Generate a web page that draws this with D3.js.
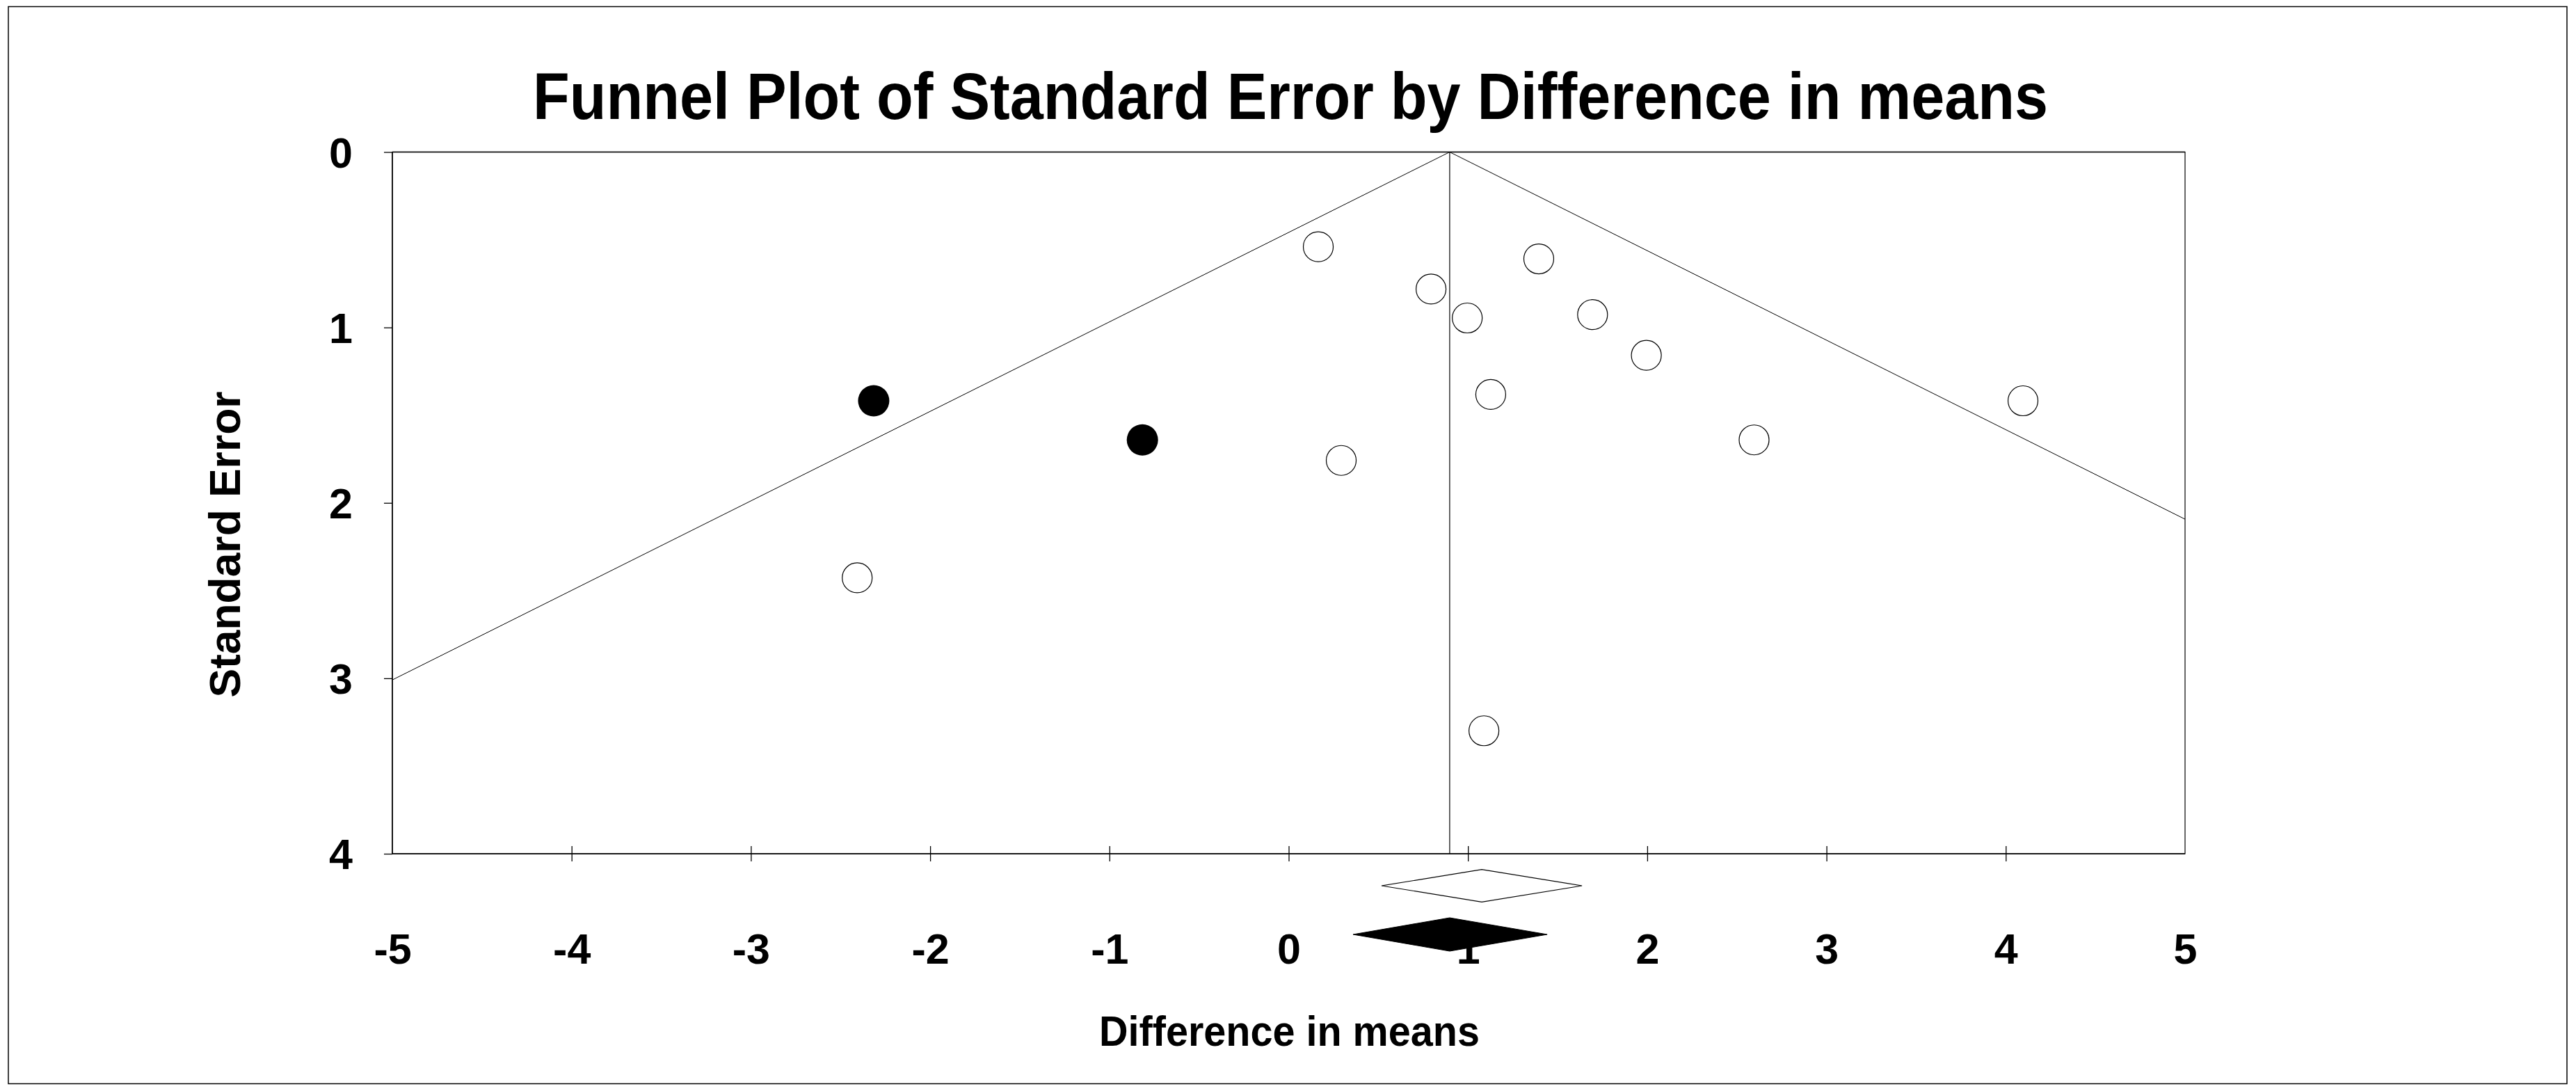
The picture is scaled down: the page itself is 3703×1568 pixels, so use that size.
<!DOCTYPE html>
<html>
<head>
<meta charset="utf-8">
<script src="https://cdn.jsdelivr.net/npm/d3@7"></script>
<style>
  html, body { margin: 0; padding: 0; background: #fff; }
  svg { display: block; }
  text { font-family: "Liberation Sans", Arial, sans-serif; font-weight: bold; fill: #000; }
</style>
</head>
<body>
<svg id="chart" width="3703" height="1568"></svg>
<script>
// ---------------- data ----------------
const chartTitle = "Funnel Plot of Standard Error by Difference in means";
const xAxisTitle = "Difference in means";
const yAxisTitle = "Standard Error";

const xTicks = [-5, -4, -3, -2, -1, 0, 1, 2, 3, 4, 5];
const xTickLabels = ["-5", "-4", "-3", "-2", "-1", "0", "1", "2", "3", "4", "5"];
const yTicks = [0, 1, 2, 3, 4];
const yTickLabels = ["0", "1", "2", "3", "4"];

// observed studies (open circles)
const observedDiff = [0.165, 0.794, 0.996, 1.395, 1.695, 1.995, 1.127, 4.096, 2.596, 0.293, -2.407, 1.089];
const observedSE   = [0.540, 0.781, 0.946, 0.609, 0.927, 1.159, 1.382, 1.418, 1.641, 1.758, 2.427, 3.299];

// imputed studies (filled circles)
const imputedDiff = [-2.315, -0.816];
const imputedSE   = [1.418, 1.641];

// combined effects (diamonds): [lower, point, upper]
const observedEffect = [0.518, 1.077, 1.636];
const adjustedEffect = [0.359, 0.898, 1.442];

// funnel limits (endpoints, difference vs SE)
const funnelLeft  = [[0.898, 0], [-5, 3.009]];
const funnelRight = [[0.898, 0], [5, 2.093]];
const centerLine  = [[0.898, 0], [0.898, 4]];

// ---------------- layout ----------------
const svg = d3.select("#chart");
const plot = { left: 564, right: 3141, top: 218.5, bottom: 1227 };

const x = d3.scaleLinear().domain([-5, 5]).range([plot.left, plot.right]);
const y = d3.scaleLinear().domain([0, 4]).range([plot.top, plot.bottom]);

// outer border
svg.append("rect")
  .attr("x", 12).attr("y", 9.5).attr("width", 3678).attr("height", 1548)
  .attr("fill", "none").attr("stroke", "#000").attr("stroke-width", 1.5);

// title
svg.append("text")
  .attr("x", 766).attr("y", 171)
  .attr("font-size", 95)
  .attr("textLength", 2178).attr("lengthAdjust", "spacingAndGlyphs")
  .text(chartTitle);

// plot frame
svg.append("rect")
  .attr("x", plot.left).attr("y", plot.top)
  .attr("width", plot.right - plot.left).attr("height", plot.bottom - plot.top)
  .attr("fill", "none").attr("stroke", "#000").attr("stroke-width", 1.2);
svg.append("line").attr("x1", plot.left).attr("x2", plot.left).attr("y1", plot.top).attr("y2", plot.bottom)
  .attr("stroke", "#000").attr("stroke-width", 1.6);
svg.append("line").attr("x1", plot.left).attr("x2", plot.right).attr("y1", plot.bottom).attr("y2", plot.bottom)
  .attr("stroke", "#000").attr("stroke-width", 1.6);
svg.append("line").attr("x1", plot.left).attr("x2", plot.right).attr("y1", plot.top).attr("y2", plot.top)
  .attr("stroke", "#000").attr("stroke-width", 1.6);

// y axis
const yAxis = svg.append("g")
  .attr("transform", `translate(${plot.left},0)`)
  .call(d3.axisLeft(y).tickValues(yTicks).tickFormat((d, i) => yTickLabels[i]).tickSize(12).tickPadding(45));
yAxis.select(".domain").remove();
yAxis.selectAll(".tick line").attr("stroke", "#000").attr("stroke-width", 1.3);
yAxis.selectAll(".tick text")
  .attr("font-size", 61).attr("font-family", null).attr("dy", "0.36em");

// x axis
const xAxis = svg.append("g")
  .attr("transform", `translate(0,${plot.bottom})`)
  .call(d3.axisBottom(x).tickValues(xTicks).tickFormat((d, i) => xTickLabels[i]).tickSize(11));
xAxis.select(".domain").remove();
xAxis.selectAll(".tick line").attr("y1", -11).attr("y2", 11).attr("stroke", "#000").attr("stroke-width", 1.3);
xAxis.selectAll(".tick").filter(d => d === -5 || d === 5).select("line").remove();
xAxis.selectAll(".tick text")
  .attr("font-size", 61).attr("font-family", null).attr("y", 158).attr("dy", 0);

// axis titles
svg.append("text")
  .attr("transform", "translate(345,782.5) rotate(-90)")
  .attr("text-anchor", "middle")
  .attr("font-size", 63)
  .attr("textLength", 440).attr("lengthAdjust", "spacingAndGlyphs")
  .text(yAxisTitle);

svg.append("text")
  .attr("x", 1580).attr("y", 1503)
  .attr("font-size", 61)
  .attr("textLength", 547).attr("lengthAdjust", "spacingAndGlyphs")
  .text(xAxisTitle);

// funnel + center line
const line = d3.line().x(d => x(d[0])).y(d => y(d[1]));
[funnelLeft, funnelRight].forEach(seg => {
  svg.append("path").attr("d", line(seg)).attr("fill", "none").attr("stroke", "#000").attr("stroke-width", 1);
});
svg.append("path").attr("d", line(centerLine)).attr("fill", "none").attr("stroke", "#000").attr("stroke-width", 1.2);

// points
const obs = observedDiff.map((d, i) => ({ x: d, se: observedSE[i] }));
const imp = imputedDiff.map((d, i) => ({ x: d, se: imputedSE[i] }));

svg.append("g").selectAll("circle").data(obs).join("circle")
  .attr("cx", d => x(d.x)).attr("cy", d => y(d.se)).attr("r", 21.5)
  .attr("fill", "#fff").attr("stroke", "#000").attr("stroke-width", 1.2);

svg.append("g").selectAll("circle").data(imp).join("circle")
  .attr("cx", d => x(d.x)).attr("cy", d => y(d.se)).attr("r", 22.5)
  .attr("fill", "#000");

// diamonds below the axis
function diamond(eff, cy, hh) {
  return `M${x(eff[0])},${cy} L${x(eff[1])},${cy - hh} L${x(eff[2])},${cy} L${x(eff[1])},${cy + hh} Z`;
}
svg.append("path").attr("d", diamond(observedEffect, plot.bottom + 46, 23.3))
  .attr("fill", "#fff").attr("stroke", "#000").attr("stroke-width", 1.2);
svg.append("path").attr("d", diamond(adjustedEffect, plot.bottom + 116, 24))
  .attr("fill", "#000").attr("stroke", "#000").attr("stroke-width", 1);
</script>
</body>
</html>
